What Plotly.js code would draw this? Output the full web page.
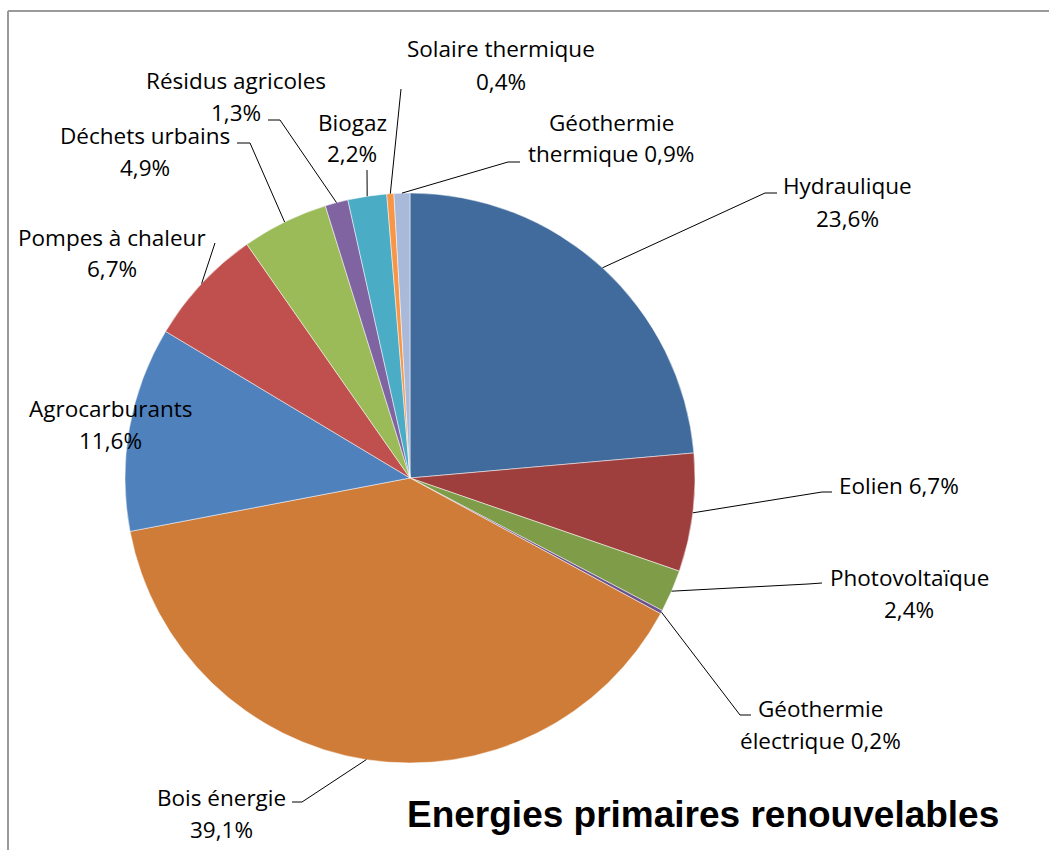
<!DOCTYPE html>
<html>
<head>
<meta charset="utf-8">
<script src="https://cdn.plot.ly/plotly-3.0.1.min.js"></script>
<style>html,body{margin:0;padding:0;background:#fff;}#chart{width:1049px;height:850px;}</style>
</head>
<body>
<div id="chart"></div>
<script>
// ---- data ----
const categories = ["Hydraulique", "Eolien", "Photovoltaïque", "Géothermie électrique", "Bois énergie",
  "Agrocarburants", "Pompes à chaleur", "Déchets urbains", "Résidus agricoles", "Biogaz",
  "Solaire thermique", "Géothermie thermique"];
const values = [23.6, 6.7, 2.4, 0.2, 39.1, 11.6, 6.7, 4.9, 1.3, 2.2, 0.4, 0.9];
const colors = ["#406B9C", "#9E3F3E", "#7F9D49", "#6A528C", "#CF7C38", "#4F81BD",
  "#C0504D", "#9BBB59", "#8064A2", "#4BACC6", "#F79646", "#A8B9DA"];
const titleText = "Energies primaires renouvelables";

// ---- layout constants (pixels) ----
const W = 1049, H = 850;
const CX = 410, CY = 478, R = 285;
const LINE = 32;
// words on first label line
const wrapWords = [1, 2, 1, 1, 2, 1, 3, 2, 2, 1, 2, 1];
// centre of first label line
const labelPos = [[847,186],[899,485],[909,577],[820,708],[221,797],[110,408],[112,237],[145,135],[236,80],[352,122],[501,49],[611,122]];
// leader line bends (after the point on the pie edge)
const leaders = [
  [[765,193],[777,193]],
  [[822,492],[832,492]],
  [[808,584],[822,583]],
  [[740,715],[751,715]],
  [[302,802],[292,802]],
  [],
  [[215,243]],
  [[250,143],[237,143]],
  [[280,120],[268,120]],
  [[367,170]],
  [[401,89]],
  [[508,162],[520,162]]
];

const px = x => x / W;
const py = y => 1 - y / H;
const fmt = v => v.toFixed(1).replace('.', ',') + '%';
const FONT = "'Open Sans', Lato, sans-serif";

const total = values.reduce((a, b) => a + b, 0);
const annotations = [];
const shapes = [];
let cum = 0;
values.forEach((v, i) => {
  const mid = (cum + v / 2) / total * 2 * Math.PI;
  cum += v;
  const ex = CX + R * Math.sin(mid), ey = CY - R * Math.cos(mid);
  const words = (categories[i] + ' ' + fmt(v)).split(' ');
  const l1 = words.slice(0, wrapWords[i]).join(' ');
  const l2 = words.slice(wrapWords[i]).join(' ');
  const [lx, ly] = labelPos[i];
  [l1, l2].forEach((t, k) => {
    if (!t) return;
    annotations.push({
      x: px(lx), y: py(ly + k * LINE), xref: 'paper', yref: 'paper',
      text: t, showarrow: false, xanchor: 'center', yanchor: 'middle',
      font: {family: FONT, size: 22.5, color: '#000'}
    });
  });
  if (leaders[i].length) {
    let d = 'M' + px(ex) + ',' + py(ey);
    leaders[i].forEach(p => { d += ' L' + px(p[0]) + ',' + py(p[1]); });
    shapes.push({type: 'path', xref: 'paper', yref: 'paper', path: d,
      line: {color: '#000', width: 1}});
  }
});

// title
annotations.push({
  x: px(405), y: py(814), xref: 'paper', yref: 'paper', text: titleText,
  showarrow: false, xanchor: 'left', yanchor: 'middle',
  font: {family: "'Liberation Sans', Arial, sans-serif", size: 37, color: '#000', weight: 'bold'}
});

// frame
shapes.push({type: 'line', xref: 'paper', yref: 'paper', x0: px(8), y0: py(11), x1: 1, y1: py(11), line: {color: '#9A9A9A', width: 2}});
shapes.push({type: 'line', xref: 'paper', yref: 'paper', x0: px(8), y0: py(11), x1: px(8), y1: 0, line: {color: '#9A9A9A', width: 2}});

const trace = {
  type: 'pie', labels: categories, values: values, sort: false,
  direction: 'clockwise', rotation: 0, textinfo: 'none', hoverinfo: 'label+percent',
  marker: {colors: colors, line: {color: '#fff', width: 0.5}},
  domain: {x: [px(CX - R), px(CX + R)], y: [py(CY + R), py(CY - R)]},
  showlegend: false
};

Plotly.newPlot('chart', [trace], {
  width: W, height: H, margin: {l: 0, r: 0, t: 0, b: 0},
  paper_bgcolor: '#fff', plot_bgcolor: '#fff', showlegend: false,
  annotations: annotations, shapes: shapes
}, {displayModeBar: false, staticPlot: true});
</script>
</body>
</html>
